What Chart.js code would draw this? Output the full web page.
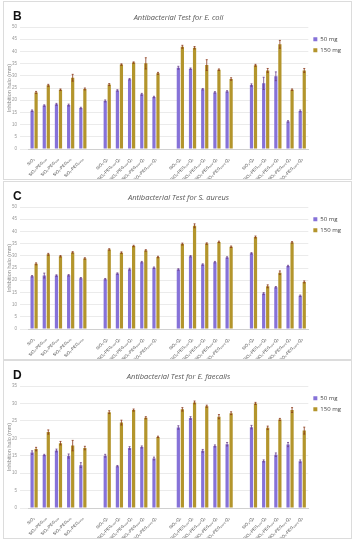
<!DOCTYPE html>
<html>
<head>
<meta charset="utf-8">
<script src="https://cdn.jsdelivr.net/npm/chart.js@4.4.1/dist/chart.umd.min.js"></script>
<style>
  body { margin: 0; background: #fff; width: 354px; height: 550px; overflow: hidden; font-family: "Open Sans", "Liberation Sans", sans-serif; }
  .card { position: absolute; left: 3px; width: 347px; height: 177px; border: 1px solid #dcdcdc; background: #fff; }
  .card canvas { position: absolute; left: 0; top: 0; }
  .letter { position: absolute; left: 9px; top: 7px; font-weight: bold; font-size: 12px; color: #111; font-family: "Liberation Sans", Arial, sans-serif; }
</style>
</head>
<body>
<div class="card" style="top:1px"><canvas id="chartB" width="347" height="177"></canvas><div class="letter">B</div></div>
<div class="card" style="top:181px"><canvas id="chartC" width="347" height="177"></canvas><div class="letter">C</div></div>
<div class="card" style="top:360px"><canvas id="chartD" width="347" height="177"></canvas><div class="letter">D</div></div>
<script>
// categories (empty strings leave the gaps between groups)
const categories = [
    'SiO₂', 'SiO₂-PEG₂₀₀', 'SiO₂-PEG₄₀₀', 'SiO₂-PEG₆₀₀', 'SiO₂-PEG₁₀₀₀', '',
    'SiO₂-Q₁', 'SiO₂-PEG₂₀₀-Q₁', 'SiO₂-PEG₄₀₀-Q₁', 'SiO₂-PEG₆₀₀-Q₁', 'SiO₂-PEG₁₀₀₀-Q₁', '',
    'SiO₂-Q₂', 'SiO₂-PEG₂₀₀-Q₂', 'SiO₂-PEG₄₀₀-Q₂', 'SiO₂-PEG₆₀₀-Q₂', 'SiO₂-PEG₁₀₀₀-Q₂', '',
    'SiO₂-Q₃', 'SiO₂-PEG₂₀₀-Q₃', 'SiO₂-PEG₄₀₀-Q₃', 'SiO₂-PEG₆₀₀-Q₃', 'SiO₂-PEG₁₀₀₀-Q₃'
];

// E. coli
const ecoli50  = [15.7, 17.8, 18.3, 18.0, 16.8, null, 19.7, 24.0, 28.6, 22.4, 21.3, null, 33.3, 32.9, 24.5, 23.2, 23.6, null, 26.2, 26.9, 29.8, 11.3, 15.6];
const ecoli150 = [23.2, 26.1, 24.3, 29.2, 24.6, null, 26.4, 34.6, 35.4, 35.1, 31.0, null, 41.9, 41.5, 34.4, 32.5, 28.7, null, 34.3, 32.2, 42.9, 24.3, 32.2];
const ecoliErr50  = [0.3, 0.3, 0.4, 0.4, 0.3, null, 0.4, 0.3, 0.3, 0.4, 0.3, null, 0.6, 0.3, 0.3, 0.3, 0.3, null, 0.5, 2.5, 1.8, 0.3, 0.4];
const ecoliErr150 = [0.4, 0.4, 0.3, 1.4, 0.4, null, 0.4, 0.3, 0.3, 2.3, 0.4, null, 0.6, 0.5, 2.2, 0.3, 0.5, null, 0.4, 0.8, 1.6, 0.3, 0.8];

// S. aureus
const saureus50  = [21.6, 21.9, 21.9, 22.0, 20.8, null, 20.4, 22.7, 24.5, 27.4, 25.1, null, 24.4, 29.8, 26.4, 27.4, 29.3, null, 31.0, 14.5, 17.1, 25.8, 13.6];
const saureus150 = [26.7, 30.6, 29.8, 31.4, 28.9, null, 32.6, 31.3, 34.0, 32.2, 29.5, null, 34.8, 42.3, 35.0, 35.7, 33.7, null, 37.7, 17.5, 23.1, 35.5, 19.3];
const saureusErr50  = [0.3, 1.0, 0.3, 0.3, 0.3, null, 0.3, 0.3, 0.4, 0.3, 0.3, null, 0.3, 0.3, 0.3, 0.3, 0.3, null, 0.3, 0.4, 0.3, 0.3, 0.3];
const saureusErr150 = [0.4, 0.4, 0.3, 0.3, 0.3, null, 0.3, 0.3, 0.3, 0.3, 0.3, null, 0.4, 0.8, 0.3, 0.3, 0.3, null, 0.4, 0.6, 0.7, 0.3, 0.4];

// E. faecalis
const efaecalis50  = [15.9, 15.2, 16.5, 14.9, 12.3, null, 15.0, 12.0, 17.2, 17.5, 14.2, null, 23.1, 25.8, 16.4, 17.8, 18.3, null, 23.2, 13.5, 15.3, 18.2, 13.4];
const efaecalis150 = [16.9, 21.8, 18.6, 17.9, 17.2, null, 27.5, 24.5, 28.1, 25.9, 20.4, null, 28.3, 30.3, 29.2, 26.2, 27.2, null, 30.0, 23.0, 25.4, 28.1, 22.2];
const efaecalisErr50  = [0.5, 0.2, 0.4, 0.6, 0.7, null, 0.4, 0.2, 0.4, 0.3, 0.4, null, 0.5, 0.4, 0.4, 0.3, 0.5, null, 0.5, 0.3, 0.5, 0.6, 0.4];
const efaecalisErr150 = [0.5, 0.6, 0.5, 1.5, 0.5, null, 0.4, 0.7, 0.3, 0.3, 0.2, null, 0.5, 0.4, 0.3, 0.6, 0.4, null, 0.3, 0.5, 0.3, 0.7, 1.0];

const seriesNames = ['50 mg', '150 mg'];
const PURPLE = '#8672d8';
const GOLD = '#b3952c';

// simple error bar plugin (upper and lower whisker with caps)
const errorBars = {
    id: 'errorBars',
    afterDatasetsDraw(chart) {
        const ctx = chart.ctx;
        const y = chart.scales.y;
        chart.data.datasets.forEach((ds, di) => {
            const meta = chart.getDatasetMeta(di);
            ctx.save();
            ctx.strokeStyle = ds.errColor;
            ctx.lineWidth = 0.8;
            meta.data.forEach((bar, i) => {
                const v = ds.data[i], e = ds.errors[i];
                if (v == null || e == null) return;
                const top = y.getPixelForValue(v + e), bot = y.getPixelForValue(v - e);
                ctx.beginPath();
                ctx.moveTo(bar.x, top); ctx.lineTo(bar.x, bot);
                ctx.moveTo(bar.x - 1, top); ctx.lineTo(bar.x + 1, top);
                ctx.moveTo(bar.x - 1, bot); ctx.lineTo(bar.x + 1, bot);
                ctx.stroke();
            });
            ctx.restore();
        });
    }
};

function makeChart(id, title, v50, v150, e50, e150, yMax) {
    return new Chart(document.getElementById(id), {
        type: 'bar',
        data: {
            labels: categories,
            datasets: [
                { label: seriesNames[0], data: v50, errors: e50, backgroundColor: PURPLE, errColor: '#6a3f8a', categoryPercentage: 0.66, barPercentage: 0.8 },
                { label: seriesNames[1], data: v150, errors: e150, backgroundColor: GOLD, errColor: '#8a3a1a', categoryPercentage: 0.66, barPercentage: 0.8 }
            ]
        },
        options: {
            responsive: false,
            animation: false,
            layout: { padding: { left: 2, right: 0, top: 0, bottom: 0 } },
            plugins: {
                title: {
                    display: true, text: title, color: '#555',
                    font: { size: 7.5, style: 'italic', weight: 'normal', family: 'Open Sans' },
                    padding: { top: 11, bottom: 5 }
                },
                legend: {
                    position: 'right', align: 'start',
                    title: { display: true, text: ' ', font: { size: 6 }, padding: { top: 22, bottom: 0 } },
                    labels: { boxWidth: 4, boxHeight: 4, padding: 5, color: '#444', font: { size: 6, family: 'Open Sans' } }
                },
                tooltip: { enabled: false }
            },
            scales: {
                x: {
                    grid: { display: false },
                    border: { color: '#d0d0d0' },
                    ticks: { autoSkip: false, minRotation: 45, maxRotation: 45, color: '#444', font: { size: 4.2 }, padding: 0 },
                    afterFit(scale) { scale.height = 30; }
                },
                y: {
                    min: 0, max: yMax,
                    grid: { color: '#e6e6e6', lineWidth: 0.8 },
                    border: { display: false },
                    ticks: { stepSize: 5, color: '#999', font: { size: 4.5 }, padding: 3 },
                    title: { display: true, text: 'Inhibition halo (mm)', color: '#888', font: { size: 5.5 }, padding: 0 },
                    afterFit(scale) { scale.width = 22; }
                }
            }
        },
        plugins: [errorBars]
    });
}

makeChart('chartB', 'Antibacterial Test for E. coli', ecoli50, ecoli150, ecoliErr50, ecoliErr150, 50);
makeChart('chartC', 'Antibacterial Test for S. aureus', saureus50, saureus150, saureusErr50, saureusErr150, 50);
makeChart('chartD', 'Antibacterial Test for E. faecalis', efaecalis50, efaecalis150, efaecalisErr50, efaecalisErr150, 35);
</script>
</body>
</html>
